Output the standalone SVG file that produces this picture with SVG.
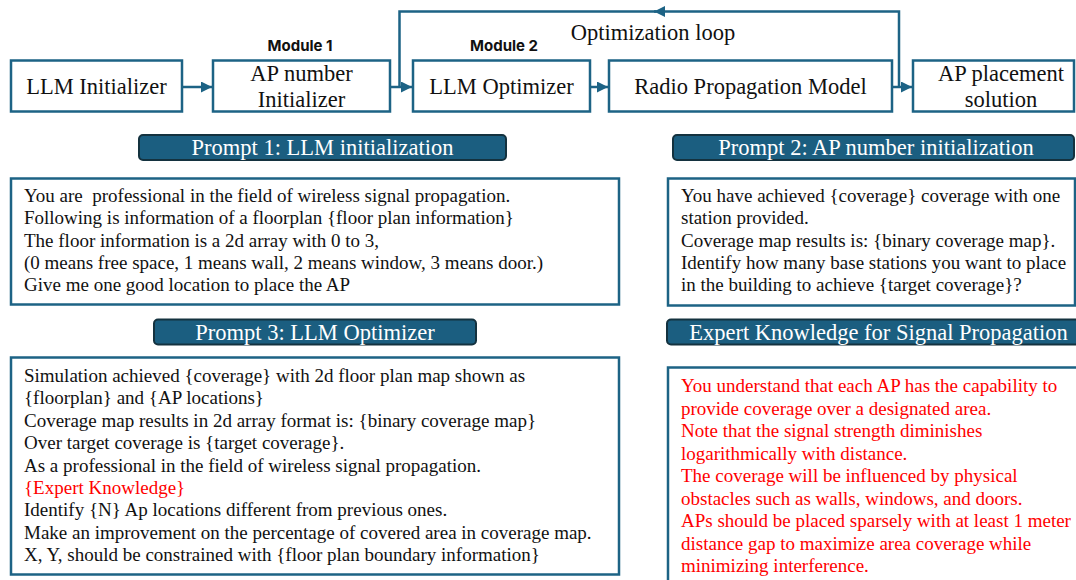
<svg xmlns="http://www.w3.org/2000/svg" width="1076" height="580" viewBox="0 0 1076 580">
<style>
.box{fill:#fff;stroke:#1d6385;stroke-width:2.5}
.pill{fill:#1b5e80;stroke:#14323f;stroke-width:2}
.t{font-family:"Liberation Serif","Times New Roman",serif;fill:#111}
.bt{font-size:22.5px;text-anchor:middle}
.pt{font-family:"Liberation Serif","Times New Roman",serif;font-size:22.5px;fill:#fff;text-anchor:middle}
.body{font-size:19px}
.red{fill:#ff0000}
.mod{font-family:Inter,"Open Sans",sans-serif;font-weight:700;font-size:15px;fill:#111;text-anchor:middle}
.con{fill:none;stroke:#1d6385;stroke-width:2.5}
</style>
<defs>
<marker id="ah" viewBox="0 0 10 10" refX="10" refY="5" markerWidth="4.4" markerHeight="4.4" orient="auto" markerUnits="strokeWidth">
<path d="M0,0 L10,5 L0,10 z" fill="#1d6385"/>
</marker>
</defs>
<g id="connectors">
<path class="con" d="M182,87 H212" marker-end="url(#ah)"/>
<path class="con" d="M390,87 H412" marker-end="url(#ah)"/>
<path class="con" d="M590,87 H608" marker-end="url(#ah)"/>
<path class="con" d="M892,87 H912" marker-end="url(#ah)"/>
<path class="con" d="M899,87 V11.5 H654" marker-end="url(#ah)"/>
<path class="con" d="M656,11.5 H399.5 V87"/>
<text class="t" x="653" y="40" font-size="22.5" text-anchor="middle">Optimization loop</text>
</g>
<g id="n1">
<rect class="box" x="11" y="60.5" width="171" height="51"/>
<text class="t bt" x="96.5" y="93.5">LLM Initializer</text>
</g>
<g id="n2">
<text class="mod" x="300" y="51">Module 1</text>
<rect class="box" x="213" y="60.5" width="177" height="51"/>
<text class="t bt" x="301.5" y="80.5">AP number</text>
<text class="t bt" x="301.5" y="107">Initializer</text>
</g>
<g id="n3">
<text class="mod" x="504" y="51">Module 2</text>
<rect class="box" x="413" y="60.5" width="177" height="51"/>
<text class="t bt" x="501.5" y="93.5">LLM Optimizer</text>
</g>
<g id="n4">
<rect class="box" x="609" y="60.5" width="283" height="51"/>
<text class="t bt" x="750.5" y="93.5">Radio Propagation Model</text>
</g>
<g id="n5">
<rect class="box" x="913" y="60.5" width="161" height="51"/>
<text class="t bt" x="1001" y="80.5">AP placement</text>
<text class="t bt" x="1001" y="107">solution</text>
</g>
<g id="prompt1">
<rect class="pill" x="139" y="135" width="367" height="25" rx="4"/>
<text class="pt" x="322.5" y="155">Prompt 1: LLM initialization</text>
<rect class="box" x="11" y="178.5" width="608" height="126"/>
<g class="t body">
<text x="24" y="202" xml:space="preserve">You are  professional in the field of wireless signal propagation.</text>
<text x="24" y="224.3">Following is information of a floorplan {floor plan information}</text>
<text x="24" y="246.6">The floor information is a 2d array with 0 to 3,</text>
<text x="24" y="268.9">(0 means free space, 1 means wall, 2 means window, 3 means door.)</text>
<text x="24" y="291.2">Give me one good location to place the AP</text>
</g>
</g>
<g id="prompt2">
<rect class="pill" x="673" y="135" width="401" height="25" rx="4"/>
<text class="pt" x="876" y="155">Prompt 2: AP number initialization</text>
<rect class="box" x="668" y="178.5" width="407" height="127"/>
<g class="t body">
<text x="681" y="202">You have achieved {coverage} coverage with one</text>
<text x="681" y="224.3">station provided.</text>
<text x="681" y="246.6">Coverage map results is: {binary coverage map}.</text>
<text x="681" y="268.9">Identify how many base stations you want to place</text>
<text x="681" y="291.2">in the building to achieve {target coverage}?</text>
</g>
</g>
<g id="prompt3">
<rect class="pill" x="154" y="319.5" width="322" height="25" rx="4"/>
<text class="pt" x="315" y="340">Prompt 3: LLM Optimizer</text>
<rect class="box" x="11" y="357.5" width="608" height="217"/>
<g class="t body">
<text x="24" y="382">Simulation achieved {coverage} with 2d floor plan map shown as</text>
<text x="24" y="404.4">{floorplan} and {AP locations}</text>
<text x="24" y="426.8">Coverage map results in 2d array format is: {binary coverage map}</text>
<text x="24" y="449.2">Over target coverage is {target coverage}.</text>
<text x="24" y="471.6">As a professional in the field of wireless signal propagation.</text>
<text x="24" y="494" class="red">{Expert Knowledge}</text>
<text x="24" y="516.4">Identify {N} Ap locations different from previous ones.</text>
<text x="24" y="538.8">Make an improvement on the percentage of covered area in coverage map.</text>
<text x="24" y="561.2">X, Y, should be constrained with {floor plan boundary information}</text>
</g>
</g>
<g id="expert">
<rect class="pill" x="667" y="319.5" width="415" height="25" rx="4"/>
<text class="pt" x="878.5" y="340">Expert Knowledge for Signal Propagation</text>
<rect class="box" x="668" y="367.5" width="412" height="220"/>
<g class="t body red">
<text x="681" y="392">You understand that each AP has the capability to</text>
<text x="681" y="414.5">provide coverage over a designated area.</text>
<text x="681" y="437">Note that the signal strength diminishes</text>
<text x="681" y="459.5">logarithmically with distance.</text>
<text x="681" y="482">The coverage will be influenced by physical</text>
<text x="681" y="504.5">obstacles such as walls, windows, and doors.</text>
<text x="681" y="527">APs should be placed sparsely with at least 1 meter</text>
<text x="681" y="549.5">distance gap to maximize area coverage while</text>
<text x="681" y="572">minimizing interference.</text>
</g>
</g>
</svg>
